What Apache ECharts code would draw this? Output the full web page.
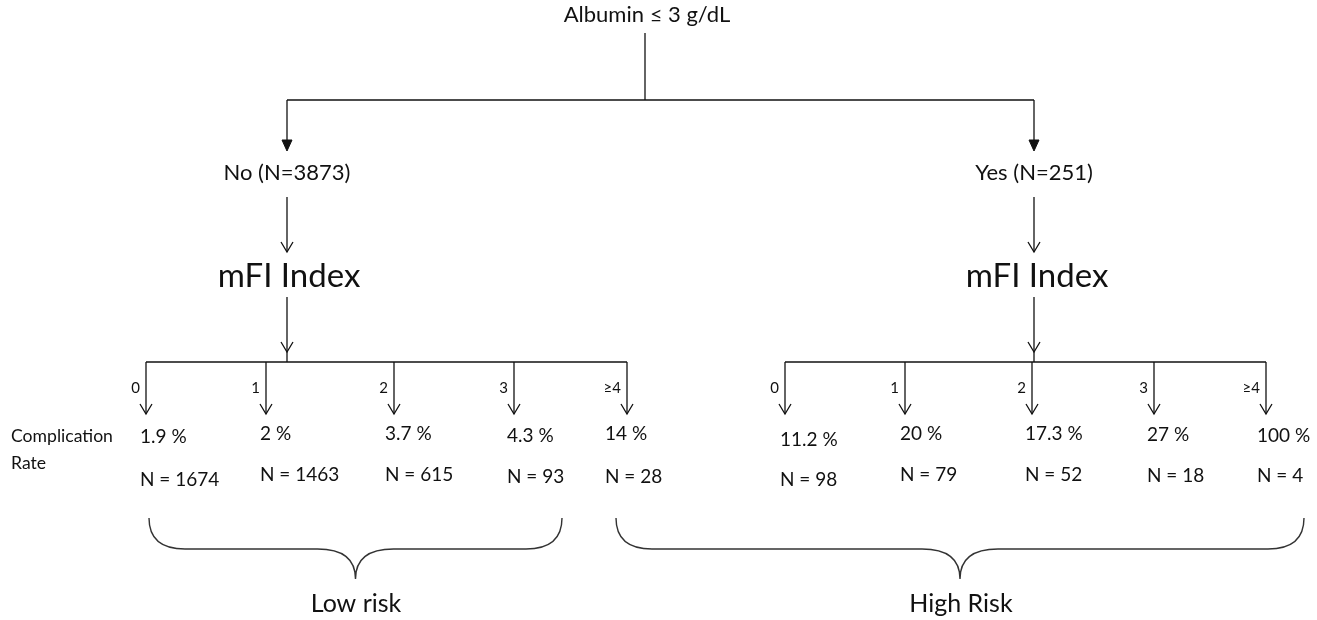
<!DOCTYPE html>
<html><head><meta charset="utf-8">
<script src="https://cdn.jsdelivr.net/npm/echarts@6/dist/echarts.min.js"></script>
<style>html,body{margin:0;padding:0;background:#fff}#c{width:1317px;height:620px}</style>
</head><body><div id="c"></div>
<script>
// ---- data ----
const rootLabel = 'Albumin ≤ 3 g/dL';
const groupLabels = ['No (N=3873)', 'Yes (N=251)'];
const indexLabel = 'mFI Index';
const mfiLevels = ['0', '1', '2', '3', '≥4'];
const noRates = [1.9, 2, 3.7, 4.3, 14];
const noCounts = [1674, 1463, 615, 93, 28];
const yesRates = [11.2, 20, 17.3, 27, 100];
const yesCounts = [98, 79, 52, 18, 4];
const rowLabels = ['Complication', 'Rate'];
const riskLabels = ['Low risk', 'High Risk'];

const rates = [noRates, yesRates];
const counts = [noCounts, yesCounts];

// ---- layout (value space 0..1317 x 0..620) ----
const L = {
  rootX: 647, rootY: 15, rootLineTop: 33, splitY: 100,
  groupX: [287, 1034], groupArrowTip: 151, groupY: 173,
  arrow1: [197, 252], indexX: [289, 1037], indexY: 276, arrow2: [297, 352],
  barY: 362, barX: [[146, 627], [785, 1266]],
  branchX: [[146, 266, 394, 514, 627], [785, 905, 1032, 1154, 1266]],
  tipY: 414, levelY: 388,
  textX: [[140, 260, 385, 507, 605], [780, 900, 1025, 1147, 1257]],
  rateY: [[437, 434, 434, 436, 434], [440, 434, 434, 435, 436]],
  nY: [[480, 475, 475, 477, 477], [480, 475, 475, 476, 476]],
  rowX: 11, rowY: [436, 463],
  brace: [[149, 562], [616, 1304]], braceTop: 518, braceMid: 549, braceTip: 579,
  riskX: [356, 961], riskY: 604
};
const FONT = 'Lato, "Open Sans", sans-serif';
const INK = '#111';

function txt(p, s, size, align) {
  return { type: 'text', x: p[0], y: p[1],
    style: { text: s, fontSize: size, fontFamily: FONT, fill: INK, align: align || 'center', verticalAlign: 'middle' } };
}
function seg(a, b, w) {
  return { type: 'line', shape: { x1: a[0], y1: a[1], x2: b[0], y2: b[1] }, style: { stroke: INK, lineWidth: w || 1.3 } };
}
function openHead(t) {
  return { type: 'polyline', shape: { points: [[t[0] - 6, t[1] - 10], [t[0], t[1]], [t[0] + 6, t[1] - 10]] },
    style: { stroke: INK, lineWidth: 1.3, fill: null } };
}
function filledHead(t) {
  return { type: 'polygon', shape: { points: [[t[0] - 5, t[1] - 11], [t[0], t[1]], [t[0] + 5, t[1] - 11]] },
    style: { fill: INK, stroke: INK, lineWidth: 1 } };
}

function renderStructure(params, api) {
  const P = (x, y) => api.coord([x, y]);
  const ch = [];
  ch.push(txt(P(L.rootX, L.rootY), rootLabel, 22));
  ch.push(seg(P(645, L.rootLineTop), P(645, L.splitY)));
  ch.push(seg(P(L.groupX[0], L.splitY), P(L.groupX[1], L.splitY)));
  for (let g = 0; g < 2; g++) {
    const gx = L.groupX[g];
    ch.push(seg(P(gx, L.splitY), P(gx, L.groupArrowTip - 8)));
    ch.push(filledHead(P(gx, L.groupArrowTip)));
    ch.push(txt(P(gx, L.groupY), groupLabels[g], 22));
    ch.push(seg(P(gx, L.arrow1[0]), P(gx, L.arrow1[1])));
    ch.push(openHead(P(gx, L.arrow1[1])));
    ch.push(txt(P(L.indexX[g], L.indexY), indexLabel, 33));
    ch.push(seg(P(gx, L.arrow2[0]), P(gx, L.arrow2[1])));
    ch.push(openHead(P(gx, L.arrow2[1])));
    ch.push(seg(P(L.barX[g][0], L.barY), P(L.barX[g][1], L.barY)));
    ch.push(seg(P(gx, L.arrow2[1]), P(gx, L.barY)));
    // brace
    const [x0, x1] = L.brace[g];
    const xc = (x0 + x1) / 2;
    const a = P(x0, L.braceTop), b = P(x1, L.braceTop);
    const m = P(xc, L.braceMid)[1], t = P(xc, L.braceTip);
    const c = t[0];
    const r = 36, r2 = 38;
    const d = `M${a[0]},${a[1]} Q${a[0]},${m} ${a[0] + r},${m} L${c - r2},${m} Q${c},${m} ${c},${t[1]} Q${c},${m} ${c + r2},${m} L${b[0] - r},${m} Q${b[0]},${m} ${b[0]},${b[1]}`;
    ch.push({ type: 'path', shape: { pathData: d }, style: { stroke: '#333', lineWidth: 1.4, fill: null } });
    ch.push(txt(P(L.riskX[g], L.riskY), riskLabels[g], 25));
  }
  ch.push(txt(P(L.rowX, L.rowY[0]), rowLabels[0], 17.6, 'left'));
  ch.push(txt(P(L.rowX, L.rowY[1]), rowLabels[1], 17.6, 'left'));
  return { type: 'group', children: ch };
}

function renderLeaf(params, api) {
  const P = (x, y) => api.coord([x, y]);
  const g = api.value(0), i = api.value(1);
  const x = L.branchX[g][i];
  const tip = P(x, L.tipY);
  return { type: 'group', children: [
    seg(P(x, L.barY), tip),
    openHead(tip),
    txt(P(x - 6, L.levelY), mfiLevels[i], 15, 'right'),
    txt(P(L.textX[g][i], L.rateY[g][i]), rates[g][i] + ' %', 19, 'left'),
    txt(P(L.textX[g][i], L.nY[g][i]), 'N = ' + counts[g][i], 19, 'left')
  ] };
}

const leaves = [];
for (let g = 0; g < 2; g++) for (let i = 0; i < mfiLevels.length; i++) leaves.push([g, i]);

const chart = echarts.init(document.getElementById('c'), null, { renderer: 'canvas' });
chart.setOption({
  animation: false,
  backgroundColor: '#fff',
  grid: { left: 0, right: 0, top: 0, bottom: 0 },
  xAxis: { type: 'value', min: 0, max: 1317, show: false },
  yAxis: { type: 'value', min: 0, max: 620, inverse: true, show: false },
  series: [
    { type: 'custom', renderItem: renderStructure, data: [[0, 0]], silent: true },
    { type: 'custom', renderItem: renderLeaf, data: leaves, silent: true }
  ]
});
</script>
</body></html>
